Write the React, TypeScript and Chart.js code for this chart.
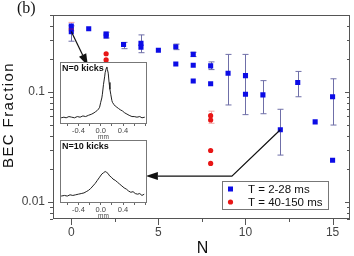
import React, { useEffect, useRef } from "react";
import { Chart, registerables } from "chart.js";
Chart.register(...registerables);

// ---------- Main chart data ----------
const blueN = [0, 0, 1, 2, 2, 3, 4, 4, 5, 6, 6, 7, 7, 7, 8, 8, 9, 10, 10, 11, 12, 13, 14, 15, 15];
const blueFrac = [0.398, 0.353, 0.377, 0.337, 0.324, 0.271, 0.277, 0.256, 0.24, 0.258, 0.18, 0.22, 0.175, 0.126, 0.173, 0.119, 0.148, 0.141, 0.0956, 0.0943, 0.0454, 0.122, 0.0535, 0.0906, 0.024];
const redN = [0, 2, 2, 8, 8, 8, 8];
const redFrac = [0.375, 0.223, 0.196, 0.061, 0.0557, 0.0294, 0.0224];

const blueErrN = [0, 2, 3, 4, 6, 7, 8, 9, 10, 11, 12, 13, 15];
const blueErrLow = [0.29, 0.31, 0.248, 0.228, 0.243, 0.21, 0.16, 0.0763, 0.0623, 0.0635, 0.0267, 0.0906, 0.0501];
const blueErrHigh = [0.4, 0.35, 0.283, 0.331, 0.273, 0.23, 0.188, 0.22, 0.22, 0.127, 0.0697, 0.154, 0.132];
const redErrN = [0, 8];
const redErrLow = [0.36, 0.052];
const redErrHigh = [0.43, 0.067];

const xTickValues = [0, 5, 10, 15];
const xMinorTicks = [2.5, 7.5, 12.5];
const yLabelTicks = [0.01, 0.1];
const yMinorTicks = [0.007, 0.008, 0.009, 0.02, 0.03, 0.04, 0.05, 0.06, 0.07, 0.08, 0.09, 0.2, 0.3, 0.4, 0.5];

const legendLabels = ["T = 2-28 ms", "T = 40-150 ms"];
const arrow1N = [0, 0.95];
const arrow1Frac = [0.355, 0.173];
const arrow2N = [12, 9.22, 4.28];
const arrow2Frac = [0.0454, 0.0172, 0.0172];

// ---------- Inset profiles ----------
const profile0Mm = [-0.71, -0.66, -0.62, -0.57, -0.52, -0.47, -0.42, -0.37, -0.32, -0.27, -0.22, -0.16, -0.12, -0.09, -0.06, -0.04, -0.02, 0.0, 0.02, 0.03, 0.05, 0.07, 0.08, 0.1, 0.11, 0.12, 0.135, 0.15, 0.165, 0.18, 0.2, 0.21, 0.24, 0.26, 0.29, 0.32, 0.35, 0.39, 0.43, 0.47, 0.51, 0.56, 0.6, 0.65, 0.7, 0.74, 0.79];
const profile0Int = [0.1, 0.11, 0.1, 0.12, 0.11, 0.1, 0.12, 0.11, 0.13, 0.12, 0.14, 0.16, 0.18, 0.2, 0.22, 0.24, 0.27, 0.35, 0.42, 0.48, 0.64, 0.76, 0.83, 0.9, 0.92, 0.88, 0.82, 0.67, 0.56, 0.48, 0.38, 0.35, 0.31, 0.29, 0.27, 0.25, 0.23, 0.21, 0.18, 0.16, 0.14, 0.12, 0.12, 0.11, 0.12, 0.1, 0.11];
const profile10Mm = [-0.71, -0.65, -0.6, -0.55, -0.5, -0.45, -0.4, -0.35, -0.3, -0.26, -0.22, -0.18, -0.14, -0.1, -0.06, -0.02, 0.02, 0.05, 0.08, 0.1, 0.13, 0.16, 0.19, 0.22, 0.26, 0.3, 0.34, 0.38, 0.42, 0.46, 0.5, 0.54, 0.58, 0.62, 0.66, 0.7, 0.74, 0.78];
const profile10Int = [0.11, 0.12, 0.11, 0.13, 0.12, 0.13, 0.14, 0.15, 0.16, 0.18, 0.2, 0.23, 0.27, 0.31, 0.36, 0.41, 0.46, 0.48, 0.5, 0.49, 0.47, 0.43, 0.41, 0.38, 0.36, 0.33, 0.3, 0.27, 0.24, 0.22, 0.19, 0.17, 0.18, 0.15, 0.14, 0.15, 0.12, 0.14];
const insetTicks = [-0.6, -0.4, -0.2, 0, 0.2, 0.4, 0.6, 0.8];
const insetLabelTicks = [-0.4, 0, 0.4];

const FONT = "'Liberation Sans', Arial, sans-serif";
const BLUE = "#0c0ce6";
const RED = "#e81616";
const ERR = "#6f6fa8";
const ERR_RED = "#f2a4a4";
const AXIS = "#555";

const mainPlugin = {
  id: "mainDecor",
  beforeDatasetsDraw(chart: any) {
    const { ctx } = chart;
    const xs = chart.scales.x;
    const ys = chart.scales.y;
    const bar = (n: number, lo: number, hi: number, color: string) => {
      const x = Math.round(xs.getPixelForValue(n)) + 0.5;
      const y1 = ys.getPixelForValue(lo);
      const y2 = ys.getPixelForValue(hi);
      ctx.save();
      ctx.strokeStyle = color;
      ctx.lineWidth = 1;
      ctx.beginPath();
      ctx.moveTo(x, y1);
      ctx.lineTo(x, y2);
      ctx.moveTo(x - 3, y1);
      ctx.lineTo(x + 3, y1);
      ctx.moveTo(x - 3, y2);
      ctx.lineTo(x + 3, y2);
      ctx.stroke();
      ctx.restore();
    };
    redErrN.forEach((n, i) => bar(n, redErrLow[i], redErrHigh[i], ERR_RED));
    blueErrN.forEach((n, i) => bar(n, blueErrLow[i], blueErrHigh[i], ERR));
  },
  afterDatasetsDraw(chart: any) {
    const { ctx, chartArea: ca } = chart;
    const xs = chart.scales.x;
    const ys = chart.scales.y;
    // arrows
    const drawArrow = (ns: number[], fs: number[]) => {
      const pts = ns.map((n, i) => [xs.getPixelForValue(n), ys.getPixelForValue(fs[i])]);
      const last = pts[pts.length - 1];
      const prev = pts[pts.length - 2];
      const ang = Math.atan2(last[1] - prev[1], last[0] - prev[0]);
      const L = 12, W = 4;
      const bx = last[0] - L * Math.cos(ang);
      const by = last[1] - L * Math.sin(ang);
      ctx.save();
      ctx.strokeStyle = "#111";
      ctx.fillStyle = "#111";
      ctx.lineWidth = 1.2;
      ctx.beginPath();
      ctx.moveTo(pts[0][0], pts[0][1]);
      for (let i = 1; i < pts.length - 1; i++) ctx.lineTo(pts[i][0], pts[i][1]);
      ctx.lineTo(bx, by);
      ctx.stroke();
      ctx.beginPath();
      ctx.moveTo(last[0], last[1]);
      ctx.lineTo(bx + W * Math.sin(ang), by - W * Math.cos(ang));
      ctx.lineTo(bx - W * Math.sin(ang), by + W * Math.cos(ang));
      ctx.closePath();
      ctx.fill();
      ctx.restore();
    };
    drawArrow(arrow1N, arrow1Frac);
    drawArrow(arrow2N, arrow2Frac);

    // frame
    ctx.save();
    ctx.strokeStyle = AXIS;
    ctx.lineWidth = 1;
    ctx.strokeRect(Math.round(ca.left) + 0.5, Math.round(ca.top) + 0.5, Math.round(ca.right - ca.left) - 1, Math.round(ca.bottom - ca.top) - 1);
    // ticks
    ctx.beginPath();
    const b = Math.round(ca.bottom);
    xTickValues.forEach((v) => {
      const x = Math.round(xs.getPixelForValue(v)) + 0.5;
      ctx.moveTo(x, b);
      ctx.lineTo(x, b + 6);
    });
    xMinorTicks.forEach((v) => {
      const x = Math.round(xs.getPixelForValue(v)) + 0.5;
      ctx.moveTo(x, b);
      ctx.lineTo(x, b + 3);
    });
    const l = Math.round(ca.left);
    const r = Math.round(ca.right);
    yLabelTicks.forEach((v) => {
      const y = Math.round(ys.getPixelForValue(v)) + 0.5;
      ctx.moveTo(l - 5, y);
      ctx.lineTo(l, y);
      ctx.moveTo(r, y);
      ctx.lineTo(r - 5, y);
    });
    yMinorTicks.forEach((v) => {
      const y = Math.round(ys.getPixelForValue(v)) + 0.5;
      ctx.moveTo(l - 3, y);
      ctx.lineTo(l, y);
      ctx.moveTo(r, y);
      ctx.lineTo(r - 3, y);
    });
    ctx.stroke();

    // legend
    const lx = 222, ly = 181, lw = 106, lh = 28;
    ctx.fillStyle = "#fff";
    ctx.fillRect(lx, ly, lw, lh);
    ctx.strokeStyle = "#777";
    ctx.strokeRect(lx + 0.5, ly + 0.5, lw, lh);
    ctx.fillStyle = BLUE;
    ctx.fillRect(lx + 6, ly + 5.5, 5, 5);
    ctx.fillStyle = RED;
    ctx.beginPath();
    ctx.arc(lx + 8.5, ly + 21, 2.6, 0, Math.PI * 2);
    ctx.fill();
    ctx.fillStyle = "#111";
    ctx.font = `11.5px ${FONT}`;
    ctx.textBaseline = "middle";
    ctx.textAlign = "left";
    ctx.fillText(legendLabels[0], lx + 26, ly + 8.5);
    ctx.fillText(legendLabels[1], lx + 26, ly + 21.5);

    // titles
    ctx.fillStyle = "#111";
    ctx.font = `16px ${FONT}`;
    ctx.textAlign = "center";
    ctx.textBaseline = "middle";
    ctx.fillText("N", (ca.left + ca.right) / 2 + 1, 249);
    ctx.save();
    ctx.translate(9, 115);
    ctx.rotate(-Math.PI / 2);
    ctx.font = `15px ${FONT}`;
    (ctx as any).letterSpacing = "1.4px";
    ctx.fillText("BEC Fraction", 0, 0);
    ctx.restore();
    ctx.font = `16px 'Liberation Serif', 'Times New Roman', serif`;
    ctx.textAlign = "left";
    ctx.textBaseline = "alphabetic";
    ctx.fillText("(b)", 17, 13);
    ctx.restore();
  },
};

function MainChart() {
  const ref = useRef<HTMLCanvasElement>(null);
  useEffect(() => {
    const chart = new Chart(ref.current as HTMLCanvasElement, {
      type: "scatter",
      data: {
        datasets: [
          {
            label: legendLabels[0],
            data: blueN.map((n, i) => ({ x: n, y: blueFrac[i] })),
            pointStyle: "rect",
            pointRadius: 3.6,
            backgroundColor: BLUE,
            borderColor: BLUE,
            borderWidth: 0,
          },
          {
            label: legendLabels[1],
            data: redN.map((n, i) => ({ x: n, y: redFrac[i] })),
            pointStyle: "circle",
            pointRadius: 2.6,
            backgroundColor: RED,
            borderColor: RED,
            borderWidth: 0,
          },
        ],
      },
      options: {
        animation: false,
        responsive: false,
        maintainAspectRatio: false,
        layout: { padding: { left: 0, right: 2, top: 4, bottom: 0 } },
        plugins: { legend: { display: false }, tooltip: { enabled: false } },
        scales: {
          x: {
            type: "linear",
            min: -1.05,
            max: 16,
            grid: { display: false, drawTicks: false },
            border: { display: false },
            afterBuildTicks: (s: any) => {
              s.ticks = xTickValues.map((v) => ({ value: v }));
            },
            ticks: {
              callback: (v: any) => String(v),
              font: { size: 12, family: FONT },
              color: "#444",
              padding: 6,
              autoSkip: false,
              maxRotation: 0,
            },
            afterFit: (s: any) => {
              s.height = 37;
            },
          },
          y: {
            type: "logarithmic",
            min: 0.007,
            max: 0.5,
            grid: { display: false, drawTicks: false },
            border: { display: false },
            afterBuildTicks: (s: any) => {
              s.ticks = yLabelTicks.map((v) => ({ value: v }));
            },
            ticks: {
              callback: (v: any) => String(v),
              font: { size: 12, family: FONT },
              color: "#444",
              padding: 8,
              autoSkip: false,
            },
            afterFit: (s: any) => {
              s.width = 53;
            },
          },
        },
      } as any,
      plugins: [mainPlugin],
    });
    return () => chart.destroy();
  }, []);
  return <canvas ref={ref} width={354} height={256} style={{ position: "absolute", left: 0, top: 0 }} />;
}

function Inset(props: { mm: number[]; intensity: number[]; label: string; left: number; top: number; boxH: number }) {
  const { mm, intensity, label, left, top, boxH } = props;
  const ref = useRef<HTMLCanvasElement>(null);
  useEffect(() => {
    const insetPlugin = {
      id: "insetDecor",
      beforeDraw(chart: any) {
        const { ctx, chartArea: ca } = chart;
        ctx.save();
        ctx.fillStyle = "#fff";
        ctx.fillRect(ca.left, ca.top, ca.right - ca.left, ca.bottom - ca.top);
        ctx.restore();
      },
      afterDraw(chart: any) {
        const { ctx, chartArea: ca } = chart;
        ctx.save();
        ctx.strokeStyle = "#777";
        ctx.lineWidth = 1;
        ctx.strokeRect(Math.round(ca.left) + 0.5, Math.round(ca.top) + 0.5, Math.round(ca.right - ca.left) - 1, Math.round(ca.bottom - ca.top) - 1);
        ctx.fillStyle = "#111";
        ctx.font = `bold 9px ${FONT}`;
        ctx.textBaseline = "alphabetic";
        ctx.textAlign = "left";
        ctx.fillText(label, ca.left + 2, ca.top + 9);
        ctx.restore();
      },
    };
    const chart = new Chart(ref.current as HTMLCanvasElement, {
      type: "line",
      data: {
        datasets: [
          {
            data: mm.map((x, i) => ({ x, y: intensity[i] })),
            borderColor: "#222",
            borderWidth: 1,
            pointRadius: 0,
            tension: 0,
            fill: false,
          },
        ],
      },
      options: {
        animation: false,
        responsive: false,
        layout: { padding: { left: 2, right: 3, top: 2, bottom: 0 } },
        plugins: { legend: { display: false }, tooltip: { enabled: false } },
        scales: {
          x: {
            type: "linear",
            min: -0.73,
            max: 0.83,
            afterBuildTicks: (s: any) => {
              s.ticks = insetTicks.map((v) => ({ value: v }));
            },
            ticks: {
              callback: (v: any) => (insetLabelTicks.includes(v) ? Number(v).toFixed(1) : ""),
              font: { size: 7.5, family: FONT },
              color: "#444",
              padding: 0,
              maxRotation: 0,
              autoSkip: false,
            },
            grid: { drawOnChartArea: false, tickLength: 2, color: "#666" },
            border: { display: false },
            title: { display: true, text: "mm", font: { size: 6.5, family: FONT }, color: "#444", padding: 0 },
            afterFit: (s: any) => {
              s.height = 17;
            },
          },
          y: { display: false, min: 0, max: 1 },
        },
      } as any,
      plugins: [insetPlugin],
    });
    return () => chart.destroy();
  }, []);
  return <canvas ref={ref} width={92} height={boxH + 19} style={{ position: "absolute", left, top }} />;
}

export default function App() {
  return (
    <div style={{ position: "fixed", left: 0, top: 0, width: 354, height: 256, background: "#fff", overflow: "hidden" }}>
      <MainChart />
      <Inset mm={profile0Mm} intensity={profile0Int} label="N=0 kicks" left={58} top={60} boxH={62} />
      <Inset mm={profile10Mm} intensity={profile10Int} label="N=10 kicks" left={58} top={138} boxH={63} />
    </div>
  );
}
